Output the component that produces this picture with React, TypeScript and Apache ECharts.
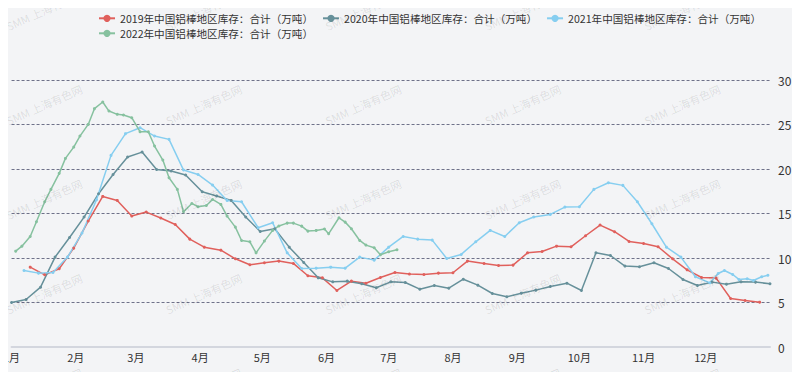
import React, { useEffect, useRef } from 'react';
import * as echarts from 'echarts';

const seriesNames = [
  '2019年中国铝棒地区库存：合计（万吨）',
  '2020年中国铝棒地区库存：合计（万吨）',
  '2021年中国铝棒地区库存：合计（万吨）',
  '2022年中国铝棒地区库存：合计（万吨）',
];
const seriesColors = ['#e0605c', '#66909a', '#86cef0', '#86c19f'];

const monthLabels = ['1月', '2月', '3月', '4月', '5月', '6月', '7月', '8月', '9月', '10月', '11月', '12月'];

// day of year (base year 2020) for each observation
const days2019 = [9, 16, 23, 30, 37, 44, 51, 58, 65, 72, 79, 86, 93, 101, 108, 115, 122, 129, 136, 143, 150, 157, 164, 171, 178, 185, 192, 199, 206, 213, 220, 228, 235, 242, 249, 256, 263, 270, 277, 284, 291, 298, 305, 312, 319, 326, 333, 340, 347, 354, 361];
const values2019 = [8.97, 8.11, 8.79, 11.11, 14.15, 16.92, 16.47, 14.71, 15.16, 14.5, 13.77, 12.12, 11.22, 10.88, 9.91, 9.24, 9.46, 9.65, 9.39, 8.0, 7.77, 6.35, 7.4, 7.17, 7.81, 8.37, 8.19, 8.15, 8.3, 8.34, 9.65, 9.39, 9.16, 9.2, 10.58, 10.73, 11.33, 11.26, 12.5, 13.7, 12.95, 11.86, 11.63, 11.26, 9.91, 8.67, 7.81, 7.74, 5.45, 5.22, 5.04];

const days2020 = [0, 7, 14, 21, 28, 35, 42, 49, 56, 63, 70, 77, 84, 92, 99, 106, 113, 120, 127, 134, 141, 148, 155, 162, 169, 176, 183, 190, 197, 204, 211, 218, 225, 232, 239, 246, 253, 260, 268, 275, 282, 289, 296, 303, 310, 317, 324, 331, 338, 345, 352, 359, 366];
const values2020 = [5.0, 5.34, 6.72, 10.1, 12.31, 14.6, 17.22, 19.39, 21.34, 21.9, 19.95, 19.77, 19.32, 17.44, 16.96, 16.47, 14.6, 12.98, 13.28, 11.22, 9.5, 7.77, 7.32, 7.4, 7.1, 6.65, 7.32, 7.25, 6.5, 6.91, 6.61, 7.62, 6.95, 6.01, 5.64, 6.05, 6.39, 6.8, 7.17, 6.35, 10.58, 10.28, 9.09, 9.01, 9.46, 8.82, 7.59, 6.91, 7.29, 7.06, 7.32, 7.29, 7.1];

const days2021 = [6, 13, 20, 27, 34, 41, 48, 55, 62, 69, 76, 83, 90, 97, 104, 111, 119, 126, 133, 140, 147, 154, 161, 168, 175, 182, 189, 196, 203, 210, 217, 224, 231, 238, 245, 252, 260, 267, 274, 281, 288, 295, 302, 309, 316, 323, 330, 337, 341, 344, 348, 351, 355, 358, 362, 365];
const values2021 = [8.6, 8.3, 8.37, 10.1, 12.8, 16.54, 21.53, 23.97, 24.64, 23.7, 23.33, 19.88, 19.39, 18.19, 16.47, 16.32, 13.4, 13.96, 10.58, 8.82, 8.86, 8.97, 8.86, 10.1, 9.76, 11.22, 12.42, 12.12, 12.01, 9.95, 10.4, 11.82, 13.1, 12.42, 13.96, 14.6, 14.9, 15.72, 15.76, 17.71, 18.46, 18.16, 16.32, 13.85, 11.22, 10.1, 7.89, 7.21, 8.26, 8.6, 8.15, 7.59, 7.66, 7.47, 7.89, 8.07];

const days2022 = [2, 5, 9, 12, 16, 19, 23, 26, 30, 33, 37, 40, 44, 47, 51, 54, 58, 62, 66, 69, 73, 76, 80, 83, 87, 90, 94, 97, 101, 104, 108, 111, 115, 118, 122, 126, 129, 133, 136, 140, 143, 147, 151, 153, 158, 161, 164, 168, 171, 175, 178, 182, 186];
const values2022 = [10.77, 11.33, 12.42, 14.07, 16.32, 17.71, 19.51, 21.19, 22.46, 23.7, 25.01, 26.78, 27.53, 26.51, 26.14, 26.06, 25.76, 24.19, 24.19, 22.58, 21.0, 19.02, 17.71, 15.2, 16.13, 15.76, 15.9, 16.58, 16.02, 14.71, 13.47, 11.97, 11.82, 10.58, 11.9, 13.1, 13.6, 13.92, 13.92, 13.58, 13.02, 13.1, 13.25, 12.72, 14.52, 14.03, 13.28, 11.97, 11.45, 11.15, 10.36, 10.7, 10.92];

const allDays = [days2019, days2020, days2021, days2022];
const allValues = [values2019, values2020, values2021, values2022];

const FONT = '"Noto Sans CJK SC", "Noto Sans", sans-serif';

export default function App() {
  const ref = useRef<HTMLDivElement>(null);
  useEffect(() => {
    if (!ref.current) return;
    const chart = echarts.init(ref.current, undefined, { renderer: 'svg' });
    const toTime = (d: number) => new Date(2020, 0, 1 + d).getTime();

    const watermarks: any[] = [];
    for (let j = 0; j < 5; j++) {
      for (let i = 0; i < 5; i++) {
        watermarks.push({
          type: 'text',
          x: 44 + 159.5 * i,
          y: 10 + 94.5 * j,
          rotation: (24 * Math.PI) / 180,
          silent: true,
          z: 100,
          style: {
            text: 'SMM 上海有色网',
            fontSize: 11,
            fontFamily: FONT,
            fill: 'rgba(0,0,0,0.1)',
            align: 'center',
            verticalAlign: 'middle',
          },
        });
      }
    }

    const series = seriesNames.map((name, s) => ({
      name,
      type: 'line',
      symbol: 'circle',
      symbolSize: 3,
      showSymbol: true,
      color: seriesColors[s],
      lineStyle: { width: 1.5, color: seriesColors[s] },
      itemStyle: { color: seriesColors[s] },
      data: allDays[s].map((d, i) => [toTime(d), allValues[s][i]]),
    }));

    const legendCommon = {
      left: 93,
      itemWidth: 16,
      itemHeight: 9,
      itemGap: 9,
      textStyle: { fontSize: 10.6, color: '#333', fontFamily: FONT },
    };

    chart.setOption({
      animation: false,
      backgroundColor: '#f3f4f6',
      textStyle: { fontFamily: FONT },
      legend: [
        { ...legendCommon, top: 8, data: seriesNames.slice(0, 3) },
        { ...legendCommon, top: 23, data: seriesNames.slice(3) },
      ],
      grid: { left: 9, right: 30, top: 80, bottom: 33, containLabel: false },
      xAxis: {
        type: 'time',
        min: toTime(0),
        max: toTime(366),
        splitNumber: 12,
        minInterval: 28 * 864e5,
        maxInterval: 31 * 864e5,
        axisLine: { show: true, lineStyle: { color: '#d3d6de', width: 2 } },
        axisTick: { show: false },
        splitLine: { show: false },
        axisLabel: {
          margin: 4,
          fontSize: 11,
          color: '#333',
          fontFamily: FONT,
          alignMinLabel: 'center',
          formatter: (v: number) => {
            const d = new Date(v);
            return d.getFullYear() === 2020 ? monthLabels[d.getMonth()] : '';
          },
        },
      },
      yAxis: {
        type: 'value',
        position: 'right',
        min: 0,
        max: 30,
        interval: 5,
        axisLine: { show: false },
        axisTick: { show: false },
        axisLabel: { margin: 8, fontSize: 12, color: '#333', fontFamily: FONT },
        splitLine: {
          show: true,
          showMinLine: false,
          lineStyle: { color: '#6e7189', type: [3, 2], width: 1 },
        },
      },
      graphic: [
        {
          type: 'text',
          left: 8,
          top: -11,
          silent: true,
          style: { text: '铝棒库存', fontSize: 14, fontWeight: 'bold', fill: '#333', fontFamily: FONT },
        },
        {
          type: 'line',
          silent: true,
          shape: { x1: 9, y1: 378.5, x2: 770, y2: 378.5 },
          style: { stroke: '#d6d9e0', lineWidth: 1 },
        },
        ...watermarks,
      ],
      series,
    });
    return () => chart.dispose();
  }, []);
  return <div ref={ref} style={{ width: 800, height: 380, margin: -8 }} />;
}
